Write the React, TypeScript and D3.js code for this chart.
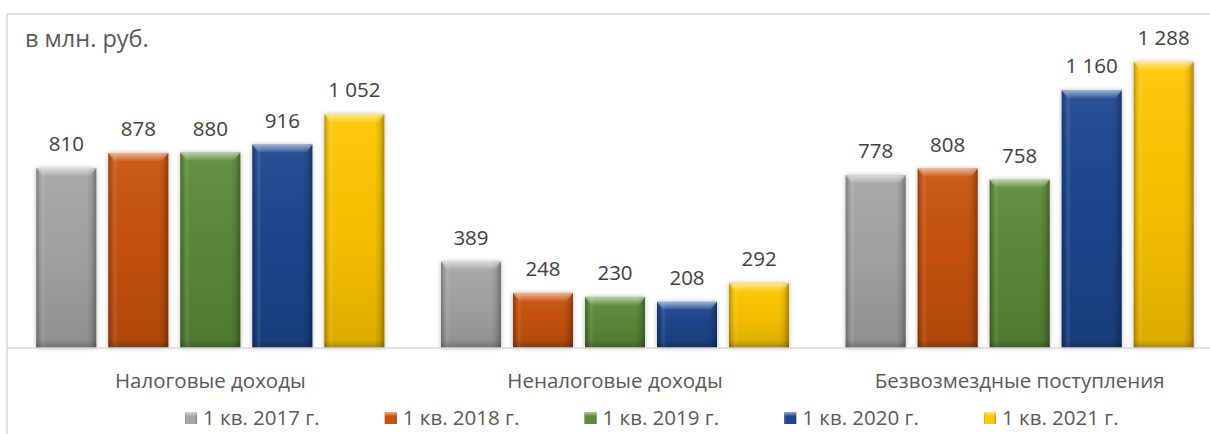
import React from "react";
import * as d3 from "d3";

const categories = ["Налоговые доходы", "Неналоговые доходы", "Безвозмездные поступления"];
const seriesNames = ["1 кв. 2017 г.", "1 кв. 2018 г.", "1 кв. 2019 г.", "1 кв. 2020 г.", "1 кв. 2021 г."];
const values2017 = [810, 389, 778];
const values2018 = [878, 248, 808];
const values2019 = [880, 230, 758];
const values2020 = [916, 208, 1160];
const values2021 = [1052, 292, 1288];
const seriesColors = ["#a6a6a6", "#c9520f", "#5b8c39", "#1f468f", "#ffc706"];
const unitLabel = "в млн. руб.";

const seriesValues = [values2017, values2018, values2019, values2020, values2021];

const W = 1210;
const H = 434;
const FONT = "'Open Sans', 'Noto Sans', sans-serif";

function fmt(v: number) {
  const s = String(v);
  return s.length > 3 ? s.slice(0, s.length - 3) + " " + s.slice(-3) : s;
}

export default function App() {
  const baseY = 348;
  const x0 = d3.scaleBand<string>().domain(categories).range([8, 1222]).paddingInner(0).paddingOuter(0);
  const x1 = d3
    .scaleBand<string>()
    .domain(seriesNames)
    .range([0, x0.bandwidth()])
    .paddingInner(12 / 72)
    .paddingOuter(0.393);
  const y = d3.scaleLinear().domain([0, 1400]).range([baseY, 37]);
  const bw = x1.bandwidth();

  const bars: any[] = [];
  categories.forEach((c, ci) => {
    seriesNames.forEach((s, si) => {
      const v = seriesValues[si][ci];
      const x = (x0(c) as number) + (x1(s) as number);
      const top = y(v);
      bars.push({ key: c + s, x, top, h: baseY - top, v, si });
    });
  });

  const legendX = d3.scaleLinear().domain([0, 4]).range([184, 983]);

  return (
    <svg width={W} height={H} style={{ position: "absolute", left: 0, top: 0, background: "#fff" }}>
      <defs>
        <linearGradient id="hshade" x1="0" x2="1" y1="0" y2="0">
          <stop offset="0" stopColor="#000" stopOpacity="0.28" />
          <stop offset="0.06" stopColor="#000" stopOpacity="0.05" />
          <stop offset="0.1" stopColor="#fff" stopOpacity="0.1" />
          <stop offset="0.16" stopColor="#fff" stopOpacity="0" />
          <stop offset="0.84" stopColor="#000" stopOpacity="0" />
          <stop offset="0.92" stopColor="#000" stopOpacity="0.1" />
          <stop offset="1" stopColor="#000" stopOpacity="0.32" />
        </linearGradient>
        <linearGradient id="vshade" x1="0" x2="0" y1="0" y2="1">
          <stop offset="0" stopColor="#fff" stopOpacity="0.06" />
          <stop offset="0.5" stopColor="#000" stopOpacity="0.04" />
          <stop offset="1" stopColor="#000" stopOpacity="0.14" />
        </linearGradient>
        <linearGradient id="topbevel" x1="0" x2="0" y1="0" y2="1">
          <stop offset="0" stopColor="#fff" stopOpacity="0.55" />
          <stop offset="0.5" stopColor="#fff" stopOpacity="0.3" />
          <stop offset="1" stopColor="#fff" stopOpacity="0.05" />
        </linearGradient>
        <linearGradient id="botshade" x1="0" x2="0" y1="0" y2="1">
          <stop offset="0" stopColor="#000" stopOpacity="0" />
          <stop offset="1" stopColor="#000" stopOpacity="0.22" />
        </linearGradient>
        <filter id="shadow" x="-20%" y="-20%" width="140%" height="140%">
          <feGaussianBlur in="SourceAlpha" stdDeviation="2.5" />
          <feComponentTransfer>
            <feFuncA type="linear" slope="0.28" />
          </feComponentTransfer>
          <feMerge>
            <feMergeNode />
            <feMergeNode in="SourceGraphic" />
          </feMerge>
        </filter>
      </defs>

      {/* frame */}
      <line x1={7} x2={W} y1={14} y2={14} stroke="#d9d9d9" strokeWidth={1.5} />
      <line x1={7} x2={7} y1={14} y2={H} stroke="#d9d9d9" strokeWidth={1.5} />

      <text x={25} y={47} fontFamily={FONT} fontSize={23.5} fill="#595959">
        {unitLabel}
      </text>

      {bars.map((b) => (
        <g key={b.key}>
          <rect x={b.x} y={b.top} width={bw} height={b.h} fill={seriesColors[b.si]} filter="url(#shadow)" />
          <rect x={b.x} y={b.top} width={bw} height={b.h} fill="url(#vshade)" />
          <rect x={b.x} y={b.top} width={bw} height={b.h} fill="url(#hshade)" />
          <rect x={b.x} y={b.top + b.h - 8} width={bw} height={8} fill="url(#botshade)" />
          <path
            d={`M${b.x},${b.top} L${b.x + bw},${b.top} L${b.x + bw - 6},${b.top + 8} L${b.x + 6},${b.top + 8} Z`}
            fill="url(#topbevel)"
          />
          <text
            x={b.x + bw / 2}
            y={b.top - 17}
            textAnchor="middle"
            fontFamily={FONT}
            fontSize={20.5}
            fill="#404040"
          >
            {fmt(b.v)}
          </text>
        </g>
      ))}

      <line x1={7} x2={W} y1={baseY} y2={baseY} stroke="#d9d9d9" strokeWidth={1.5} />

      {categories.map((c) => (
        <text
          key={c}
          x={(x0(c) as number) + x0.bandwidth() / 2}
          y={388}
          textAnchor="middle"
          fontFamily={FONT}
          fontSize={20.5}
          fill="#595959"
        >
          {c}
        </text>
      ))}

      {seriesNames.map((s, i) => (
        <g key={s} transform={`translate(${legendX(i)},0)`}>
          <rect x={1} y={412} width={12} height={12} fill={seriesColors[i]} />
          <rect x={1} y={412} width={12} height={12} fill="url(#hshade)" />
          <rect x={1} y={412} width={12} height={4} fill="url(#topbevel)" />
          <text x={19} y={425} fontFamily={FONT} fontSize={20.5} fill="#595959">
            {s}
          </text>
        </g>
      ))}
    </svg>
  );
}
